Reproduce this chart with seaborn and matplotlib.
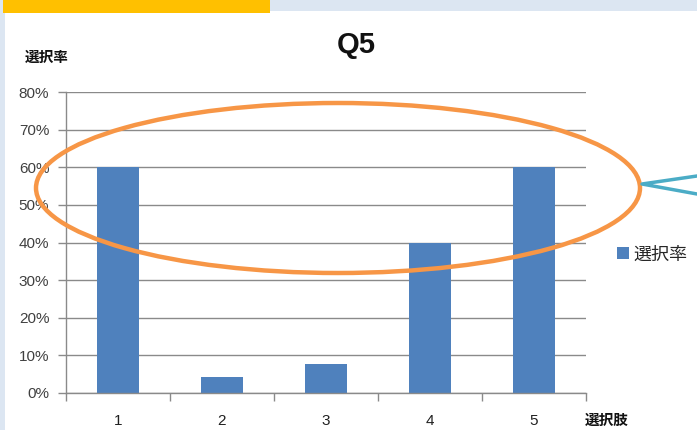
import numpy as np
import matplotlib
matplotlib.use("Agg")
import matplotlib.pyplot as plt
import seaborn as sns
from matplotlib.patches import Ellipse, Rectangle
from matplotlib.lines import Line2D

# =====================================
# DATA
# =====================================

choices = ["1", "2", "3", "4", "5"]
rates = [0.60, 0.043, 0.077, 0.40, 0.60]
y_ticks = [0.0, 0.1, 0.2, 0.3, 0.4, 0.5, 0.6, 0.7, 0.8]
y_tick_labels = ["0%", "10%", "20%", "30%", "40%", "50%", "60%", "70%", "80%"]
series_name = "選択率"

# =====================================
# STYLE
# =====================================

sns.set_style("white")
plt.rcParams["font.family"] = ["Liberation Sans", "Noto Sans CJK JP", "DejaVu Sans"]

W, H = 697, 430
fig = plt.figure(figsize=(W / 100, H / 100), dpi=100)

def fx(px):
    return px / W

def fy(py):
    return 1 - py / H

# background strips of the screenshot
fig.patches.append(Rectangle((0, 0), fx(5), 1, transform=fig.transFigure,
                             facecolor="#DCE6F2", edgecolor="none", zorder=0))
fig.patches.append(Rectangle((fx(270), fy(11)), 1, 1, transform=fig.transFigure,
                             facecolor="#DCE6F2", edgecolor="none", zorder=0))
fig.patches.append(Rectangle((fx(3), fy(13)), fx(267), 1, transform=fig.transFigure,
                             facecolor="#FFC000", edgecolor="none", zorder=1))

# =====================================
# BAR CHART
# =====================================

ax = fig.add_axes([fx(66), 37 / H, fx(520), 301 / H])
ax.set_facecolor("none")

sns.barplot(
    x=choices,
    y=rates,
    color="#4F81BD",
    width=0.4,
    saturation=1,
    linewidth=0,
    label=series_name,
    ax=ax
)

ax.set_xlim(-0.5, 4.5)
ax.set_ylim(0, 0.8)
ax.set_yticks(y_ticks)
ax.set_yticklabels(y_tick_labels)
ax.yaxis.grid(True, color="#8A8A8A", linewidth=1)
ax.set_axisbelow(True)

for side in ["top", "right"]:
    ax.spines[side].set_visible(False)
for side in ["left", "bottom"]:
    ax.spines[side].set_color("#8A8A8A")
    ax.spines[side].set_linewidth(1)

ax.tick_params(axis="y", length=6, width=1, color="#8A8A8A", pad=6,
               labelsize=11, labelcolor="#404040", left=True)
ax.set_xticks(np.arange(-0.5, 5, 1), minor=True)
ax.tick_params(axis="x", which="major", length=0, pad=15,
               labelsize=11, labelcolor="#202020")
ax.tick_params(axis="x", which="minor", length=6, width=1,
               color="#8A8A8A", bottom=True)
ax.set_xlabel("")
ax.set_ylabel("")

ax.legend(
    loc="center left",
    bbox_to_anchor=(fx(617), fy(255)),
    bbox_transform=fig.transFigure,
    frameon=False,
    borderpad=0,
    borderaxespad=0,
    handlelength=0.65,
    handleheight=0.65,
    handletextpad=0.25,
    fontsize=13
)

# =====================================
# TEXTS
# =====================================

fig.text(fx(356), fy(45), "Q5", ha="center", va="center",
         fontsize=21, fontweight="bold", color="#111111")
fig.text(fx(25), fy(58), "選択率", ha="left", va="center",
         fontsize=10.5, fontweight="bold", color="#111111")
fig.text(fx(585), fy(421), "選択肢", ha="left", va="center",
         fontsize=10.5, fontweight="bold", color="#111111")

# =====================================
# ANNOTATION OVERLAY
# =====================================

fig.patches.append(Ellipse((fx(338), fy(188)), fx(604), 170 / H,
                           transform=fig.transFigure, fill=False,
                           edgecolor="#F79646", linewidth=3.2, zorder=10))
fig.lines.append(Line2D([fx(697), fx(642), fx(697)], [fy(176), fy(184), fy(194)],
                       transform=fig.transFigure, color="#4BACC6",
                       linewidth=2.5, zorder=11))

plt.savefig("out.png", dpi=100)
plt.close()
